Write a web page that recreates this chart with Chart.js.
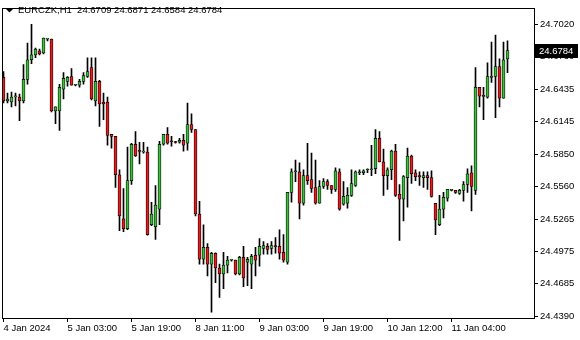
<!DOCTYPE html>
<html><head><meta charset="utf-8">
<script src="https://cdn.jsdelivr.net/npm/chart.js@4.4.1/dist/chart.umd.min.js"></script>
<style>html,body{margin:0;padding:0;background:#fff;overflow:hidden}canvas{display:block}</style>
</head><body>
<canvas id="c" width="580" height="340"></canvas>
<script>
const symbol = 'EURCZK,H1';
const tickIdx = [0, 16, 32, 48, 64, 80, 96, 112];
const tickLabels = ['4 Jan 2024', '5 Jan 03:00', '5 Jan 19:00', '8 Jan 11:00', '9 Jan 03:00', '9 Jan 19:00', '10 Jan 12:00', '11 Jan 04:00'];
const yTicks = [24.7020, 24.6730, 24.6435, 24.6145, 24.5850, 24.5560, 24.5265, 24.4975, 24.4685, 24.4390];

const open = [24.6542,24.6329,24.6320,24.6366,24.6364,24.6329,24.6524,24.6701,24.6745,24.6781,
24.6763,24.6887,24.6887,24.6240,24.6240,24.6435,24.6506,24.6550,24.6471,24.6471,
24.6506,24.6550,24.6630,24.6329,24.6506,24.6320,24.6320,24.6028,24.6010,24.5664,
24.5266,24.5177,24.5611,24.5939,24.5877,24.5868,24.5868,24.5213,24.5195,24.5354,
24.5939,24.6028,24.5966,24.5957,24.5957,24.5975,24.5948,24.6116,24.6072,24.5310,
24.4902,24.5009,24.4858,24.4956,24.4823,24.4770,24.4849,24.4894,24.4894,24.4770,
24.4920,24.4876,24.4858,24.4938,24.4938,24.5000,24.5018,24.5000,24.5018,24.5018,
24.4964,24.4876,24.5505,24.5691,24.5691,24.5407,24.5656,24.5620,24.5549,24.5407,
24.5558,24.5602,24.5567,24.5532,24.5691,24.5399,24.5407,24.5478,24.5567,24.5682,
24.5682,24.5707,24.5709,24.5718,24.5992,24.5780,24.5656,24.5709,24.5877,24.5487,
24.5443,24.5638,24.5833,24.5682,24.5652,24.5638,24.5656,24.5638,24.5407,24.5213,
24.5354,24.5452,24.5523,24.5523,24.5496,24.5523,24.5576,24.5682,24.5523,24.6453,
24.6373,24.6364,24.6542,24.6550,24.6639,24.6355,24.6709];
const high = [24.6595,24.6400,24.6409,24.6400,24.6391,24.6657,24.6852,24.7020,24.6807,24.6798,
24.6896,24.6890,24.6887,24.6276,24.6480,24.6586,24.6550,24.6621,24.6477,24.6524,
24.6586,24.6719,24.6719,24.6719,24.6515,24.6400,24.6364,24.6028,24.6010,24.5709,
24.5540,24.5913,24.5948,24.6054,24.5957,24.5957,24.5913,24.5416,24.5567,24.5966,
24.6028,24.6090,24.6010,24.5966,24.5992,24.6028,24.6311,24.6214,24.6072,24.5425,
24.5213,24.5044,24.4964,24.4960,24.4858,24.4964,24.4929,24.4902,24.4894,24.4929,
24.5018,24.4920,24.4947,24.5009,24.5089,24.5062,24.5044,24.5062,24.5098,24.5168,
24.5124,24.5505,24.5718,24.5797,24.5771,24.5709,24.5948,24.5859,24.5797,24.5611,
24.5629,24.5620,24.5567,24.5726,24.5718,24.5602,24.5549,24.5709,24.5700,24.5709,
24.5709,24.5718,24.5930,24.6072,24.6054,24.5895,24.5726,24.5886,24.5939,24.5576,
24.5656,24.5904,24.5842,24.5709,24.5691,24.5691,24.5691,24.5700,24.5407,24.5478,
24.5505,24.5532,24.5527,24.5523,24.5532,24.5602,24.5718,24.5744,24.6630,24.6453,
24.6453,24.6674,24.6861,24.6923,24.6710,24.6861,24.6871];
const low = [24.6311,24.6311,24.6276,24.6285,24.6152,24.6311,24.6480,24.6666,24.6719,24.6745,
24.6754,24.6870,24.6231,24.6125,24.6063,24.6347,24.6462,24.6471,24.6466,24.6453,
24.6480,24.6542,24.6338,24.6285,24.6099,24.6161,24.5930,24.5904,24.5549,24.5159,
24.5151,24.5168,24.5576,24.5830,24.5762,24.5859,24.5120,24.5204,24.5080,24.5213,
24.5930,24.5939,24.5922,24.5948,24.5948,24.5877,24.5886,24.6045,24.5292,24.4858,
24.4858,24.4752,24.4424,24.4690,24.4557,24.4637,24.4779,24.4885,24.4761,24.4761,
24.4654,24.4663,24.4637,24.4752,24.4840,24.4947,24.4947,24.4947,24.4956,24.4902,
24.4876,24.4858,24.5416,24.5602,24.5266,24.5390,24.5576,24.5505,24.5399,24.5407,
24.5540,24.5532,24.5496,24.5514,24.5345,24.5390,24.5363,24.5469,24.5558,24.5664,
24.5664,24.5682,24.5656,24.5673,24.5780,24.5478,24.5532,24.5620,24.5469,24.5071,
24.5248,24.5372,24.5585,24.5611,24.5567,24.5549,24.5532,24.5461,24.5124,24.5204,
24.5275,24.5425,24.5518,24.5496,24.5487,24.5425,24.5505,24.5337,24.5487,24.6276,
24.6161,24.6355,24.6497,24.6178,24.6276,24.6355,24.6584];
const close = [24.6329,24.6347,24.6364,24.6370,24.6329,24.6524,24.6701,24.6745,24.6798,24.6754,
24.6896,24.6887,24.6240,24.6276,24.6453,24.6533,24.6542,24.6471,24.6474,24.6506,
24.6559,24.6595,24.6347,24.6506,24.6302,24.6302,24.6019,24.6010,24.5664,24.5292,
24.5177,24.5611,24.5939,24.5833,24.5875,24.5877,24.5124,24.5310,24.5390,24.5939,
24.6028,24.5948,24.5962,24.5955,24.5975,24.5930,24.6116,24.6072,24.5310,24.4902,
24.5009,24.4858,24.4956,24.4823,24.4770,24.4849,24.4894,24.4896,24.4770,24.4920,
24.4734,24.4902,24.4929,24.4894,24.5018,24.5026,24.4991,24.5026,24.5016,24.4956,
24.4894,24.5505,24.5691,24.5693,24.5407,24.5656,24.5611,24.5540,24.5407,24.5558,
24.5602,24.5567,24.5532,24.5700,24.5354,24.5469,24.5478,24.5585,24.5691,24.5691,
24.5700,24.5709,24.5718,24.5992,24.5780,24.5656,24.5709,24.5877,24.5478,24.5443,
24.5647,24.5833,24.5673,24.5647,24.5647,24.5656,24.5638,24.5469,24.5257,24.5354,
24.5461,24.5532,24.5525,24.5505,24.5523,24.5576,24.5673,24.5558,24.6453,24.6373,
24.6371,24.6550,24.6550,24.6639,24.6355,24.6701,24.6784];

const GREEN = '#3cc03c', RED = '#e81c1c';
const FONT = "'Liberation Sans', Arial, sans-serif";
const FS = 9.5;

const n = open.length;
const bodyData = open.map((o, i) => ({ x: i, y: [o, close[i]] }));
const wickData = open.map((o, i) => ({ x: i, y: [low[i], high[i]] }));
const bodyColors = open.map((o, i) => close[i] >= o ? GREEN : RED);

const overlay = {
  id: 'overlay',
  afterDraw(chart) {
    const { ctx, chartArea: a, scales: { y } } = chart;
    ctx.save();
    ctx.strokeStyle = '#000';
    ctx.lineWidth = 1;
    ctx.strokeRect(Math.round(a.left) + 0.5, Math.round(a.top) + 0.5, Math.round(a.right - a.left), Math.round(a.bottom - a.top));
    ctx.fillStyle = '#000';
    ctx.beginPath();
    ctx.moveTo(6, 9); ctx.lineTo(13, 9); ctx.lineTo(9.5, 12.5); ctx.closePath(); ctx.fill();
    ctx.font = FS + 'px ' + FONT;
    ctx.textBaseline = 'middle';
    ctx.textAlign = 'left';
    const last = n - 1;
    const title = symbol + '  ' + [open[last], high[last], low[last], close[last]].map(v => v.toFixed(4)).join(' ');
    ctx.fillText(title, 18, 10.5);
    const py = Math.round(y.getPixelForValue(close[last]));
    ctx.fillStyle = '#000';
    ctx.fillRect(a.right + 1, py - 7, 43, 14);
    ctx.fillStyle = '#fff';
    ctx.fillText(close[last].toFixed(4), a.right + 5, py + 0.5);
    ctx.restore();
  }
};

new Chart(document.getElementById('c'), {
  type: 'bar',
  data: {
    datasets: [
      { data: bodyData, backgroundColor: bodyColors, borderColor: '#000', borderWidth: 0.75, borderSkipped: false,
        barThickness: 3, minBarLength: 1, grouped: false, order: 0 },
      { data: wickData, backgroundColor: '#000', borderWidth: 0, barThickness: 1, grouped: false, order: 1 }
    ]
  },
  options: {
    responsive: false, animation: false, events: [],
    layout: { padding: { left: 2, top: 2, right: 0, bottom: 0 } },
    plugins: { legend: { display: false }, tooltip: { enabled: false }, title: { display: false } },
    scales: {
      x: {
        type: 'linear', min: -0.375, max: 132.625, offset: false,
        afterBuildTicks: s => { s.ticks = tickIdx.map(v => ({ value: v })); },
        afterFit: s => { s.height = 22; },
        ticks: { autoSkip: false, maxRotation: 0, minRotation: 0, align: 'start', padding: 1, color: '#000',
          font: { family: FONT, size: FS },
          callback: v => { const i = tickIdx.indexOf(v); return i >= 0 ? tickLabels[i] : ''; } },
        grid: { offset: false, drawOnChartArea: false, drawTicks: true, tickLength: 4, tickColor: '#000' },
        border: { display: false }
      },
      y: {
        position: 'right', min: 24.43723, max: 24.71705,
        afterBuildTicks: s => { s.ticks = yTicks.map(v => ({ value: v })); },
        afterFit: s => { s.width = 46; },
        ticks: { autoSkip: false, padding: 2, color: '#000', font: { family: FONT, size: FS },
          callback: v => Number(v).toFixed(4) },
        grid: { drawOnChartArea: false, drawTicks: true, tickLength: 4, tickColor: '#000' },
        border: { display: false }
      }
    }
  },
  plugins: [overlay]
});
</script>
</body></html>
